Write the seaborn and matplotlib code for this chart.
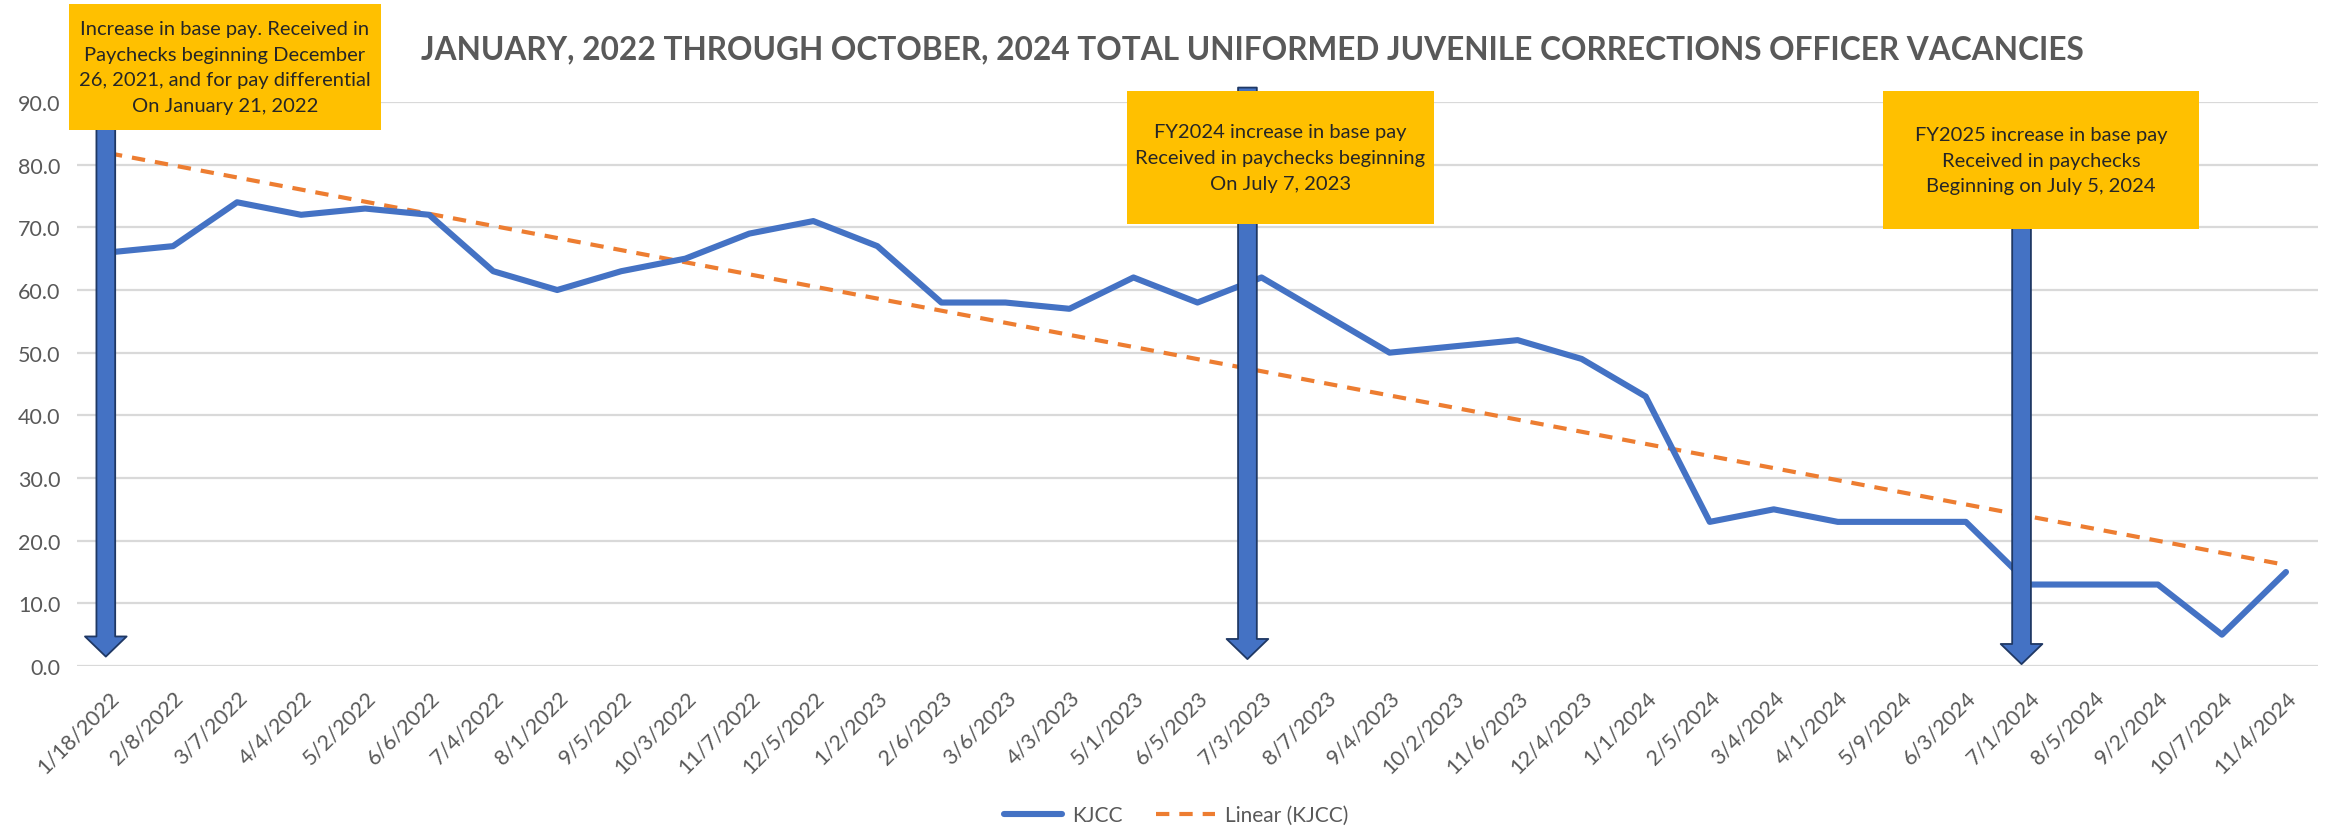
import numpy as np
import pandas as pd
import matplotlib
matplotlib.use("Agg")
import matplotlib.pyplot as plt
from matplotlib.patches import Rectangle
from matplotlib.lines import Line2D
import seaborn as sns

# ---------------- data ----------------
dates = ["1/18/2022", "2/8/2022", "3/7/2022", "4/4/2022", "5/2/2022", "6/6/2022",
         "7/4/2022", "8/1/2022", "9/5/2022", "10/3/2022", "11/7/2022", "12/5/2022",
         "1/2/2023", "2/6/2023", "3/6/2023", "4/3/2023", "5/1/2023", "6/5/2023",
         "7/3/2023", "8/7/2023", "9/4/2023", "10/2/2023", "11/6/2023", "12/4/2023",
         "1/1/2024", "2/5/2024", "3/4/2024", "4/1/2024", "5/9/2024", "6/3/2024",
         "7/1/2024", "8/5/2024", "9/2/2024", "10/7/2024", "11/4/2024"]
kjcc = [66, 67, 74, 72, 73, 72, 63, 60, 63, 65, 69, 71,
        67, 58, 58, 57, 62, 58, 62, 56, 50, 51, 52, 49,
        43, 23, 25, 23, 23, 23, 13, 13, 13, 5, 15]
y_ticks = [0, 10, 20, 30, 40, 50, 60, 70, 80, 90]

title = "JANUARY, 2022 THROUGH OCTOBER, 2024 TOTAL UNIFORMED JUVENILE CORRECTIONS OFFICER VACANCIES"
note_texts = [
    "Increase in base pay. Received in\nPaychecks beginning December\n26, 2021, and for pay differential\nOn January 21, 2022",
    "FY2024 increase in base pay\nReceived in paychecks beginning\nOn July 7, 2023",
    "FY2025 increase in base pay\nReceived in paychecks\nBeginning on July 5, 2024",
]

# ---------------- style ----------------
W, H = 2330, 828
DPI = 100
sns.set_theme(style="white")
plt.rcParams["font.family"] = ["Lato", "DejaVu Sans"]

BLUE = "#4472C4"
ORANGE = "#ED7D31"
NAVY = "#1F3864"
GOLD = "#FFC000"
GREY_TXT = "#595959"
GRID = "#D9D9D9"

def fx(x):
    return x / W

def fy(y):
    return 1 - y / H

fig = plt.figure(figsize=(W / DPI, H / DPI), dpi=DPI)
ax = fig.add_axes([fx(77), fy(667), fx(2318) - fx(77), fy(103) - fy(667)])

idx = np.arange(len(dates))
df = pd.DataFrame({"idx": idx, "KJCC": kjcc})
coef = np.polyfit(idx, np.array(kjcc, dtype=float), 1)
df["trend"] = np.polyval(coef, idx)

sns.lineplot(data=df, x="idx", y="KJCC", ax=ax, color=BLUE, linewidth=4.4,
             zorder=3, label="KJCC", legend=False)
sns.lineplot(data=df, x="idx", y="trend", ax=ax, color=ORANGE, linewidth=3.0,
             zorder=2, label="Linear (KJCC)", legend=False)
ax.lines[-1].set_dashes((3.2, 2.4))
ax.lines[-1].set_dash_capstyle("butt")

ax.set_xlim(-0.5, len(dates) - 0.5)
ax.set_ylim(0, 90)
ax.set_yticks(y_ticks)
ax.set_yticklabels([f"{v:.1f}" for v in y_ticks], color=GREY_TXT, fontsize=15.5)
ax.set_xticks(idx)
ax.set_xticklabels(dates, rotation=45, ha="right", va="top",
                   rotation_mode="anchor", color=GREY_TXT, fontsize=15.5)
ax.tick_params(axis="y", length=0, pad=12)
ax.tick_params(axis="x", length=0, pad=15)
ax.set_xlabel("")
ax.set_ylabel("")
ax.grid(axis="y", color=GRID, linewidth=1.6, zorder=0)
ax.grid(axis="x", visible=False)
for s in ax.spines.values():
    s.set_visible(False)
ax.set_facecolor("white")

# ---------------- arrows ----------------
arrow_specs = [(-0.05, 88.0, 1.5), (17.78, 92.3, 1.1), (29.87, 88.0, 0.3)]
for xa, ytop, ytip in arrow_specs:
    ax.annotate("", xy=(xa, ytip), xytext=(xa, ytop),
                arrowprops=dict(arrowstyle="simple,head_length=1.45,head_width=3.0,tail_width=1.35",
                                fc=BLUE, ec=NAVY, lw=1.3, shrinkA=0, shrinkB=0,
                                mutation_scale=10),
                annotation_clip=False, zorder=5)

# ---------------- boxes ----------------
boxes = [(69, 5, 381, 131), (1127, 92, 1434, 225), (1883, 92, 2199, 230)]
for (x0, y0, x1, y1), txt in zip(boxes, note_texts):
    fig.add_artist(Rectangle((fx(x0), fy(y1)), fx(x1) - fx(x0), fy(y0) - fy(y1),
                             transform=fig.transFigure, facecolor=GOLD,
                             edgecolor="none", zorder=10))
    fig.text(fx((x0 + x1) / 2), fy((y0 + y1) / 2), txt, ha="center", va="center",
             fontsize=14.5, color="#262626", linespacing=1.62, zorder=11)

# ---------------- title ----------------
fig.text(fx(1252), fy(50), title, ha="center", va="center", fontsize=22.8,
         fontweight="bold", color=GREY_TXT)

# ---------------- legend ----------------
handles = [Line2D([0], [0], color=BLUE, lw=4.4),
           Line2D([0], [0], color=ORANGE, lw=3.0, dashes=(3.2, 2.4))]
fig.legend(handles, ["KJCC", "Linear (KJCC)"], loc="center",
           bbox_to_anchor=(fx(1176), fy(816)), ncol=2, frameon=False,
           fontsize=15, labelcolor=GREY_TXT, handlelength=2.8,
           columnspacing=1.6, handletextpad=0.5)

fig.savefig("out.png", dpi=DPI, facecolor="white")
